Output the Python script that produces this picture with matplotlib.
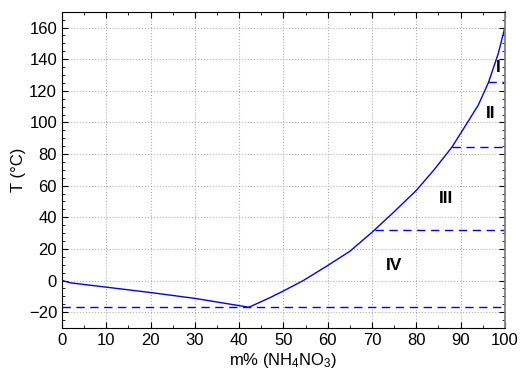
import numpy as np
import matplotlib.pyplot as plt
from matplotlib.ticker import MultipleLocator

plt.rcParams['font.family'] = ['Liberation Sans', 'DejaVu Sans']
plt.rcParams['mathtext.default'] = 'regular'

# liquidus curve (ice branch + NH4NO3 branch)
conc = [0, 2, 10, 20, 30, 42.2, 47, 50, 54.5, 60, 65, 70, 75, 80, 84, 88, 91, 94, 96.3, 98.5, 100]
temp = [0, -1.5, -4.2, -7.6, -11.3, -16.9, -10.8, -6.6, 0, 9.5, 18.5, 30.5, 43.5, 57, 70, 84.2, 97.5, 111, 125.3, 143.5, 160]

# horizontal transition lines: temperature and start concentration
trans_T = [-16.9, 32, 84.2, 125.3]
trans_x0 = [0, 70.6, 88, 96.3]

# region labels
reg_names = ['I', 'II', 'III', 'IV']
reg_x = [98.6, 96.8, 86.7, 75]
reg_y = [135, 105.5, 51.8, 9.5]

fig = plt.figure(figsize=(5.32, 3.8), dpi=100)
ax = fig.add_axes([0.1165, 0.137, 0.8325, 0.832])

ax.plot(conc, temp, color='#0000ff', lw=1)
for t, x0 in zip(trans_T, trans_x0):
    ax.plot([x0, 100], [t, t], color='#0000ff', lw=1, dashes=(6, 4))

for name, x, y in zip(reg_names, reg_x, reg_y):
    ax.text(x, y, name, fontsize=12.5, fontweight='bold', ha='center', va='center')

ax.set_xlim(0, 100)
ax.set_ylim(-30, 170)
ax.xaxis.set_major_locator(MultipleLocator(10))
ax.xaxis.set_minor_locator(MultipleLocator(5))
ax.yaxis.set_major_locator(MultipleLocator(20))
ax.yaxis.set_minor_locator(MultipleLocator(5))
ax.tick_params(which='both', direction='in', top=True, right=True, labelsize=12)
ax.tick_params(which='major', length=4)
ax.tick_params(which='minor', length=2)
ax.grid(True, which='major', color='#b0b0b0', linestyle=':', lw=0.8)
ax.spines['right'].set_color('#808080')
ax.spines['right'].set_linewidth(1.3)

ax.set_xlabel('m% (NH$_4$NO$_3$)', fontsize=12, labelpad=2)
ax.set_ylabel('T (°C)', fontsize=12, labelpad=2)

fig.savefig('out.png', dpi=100)
